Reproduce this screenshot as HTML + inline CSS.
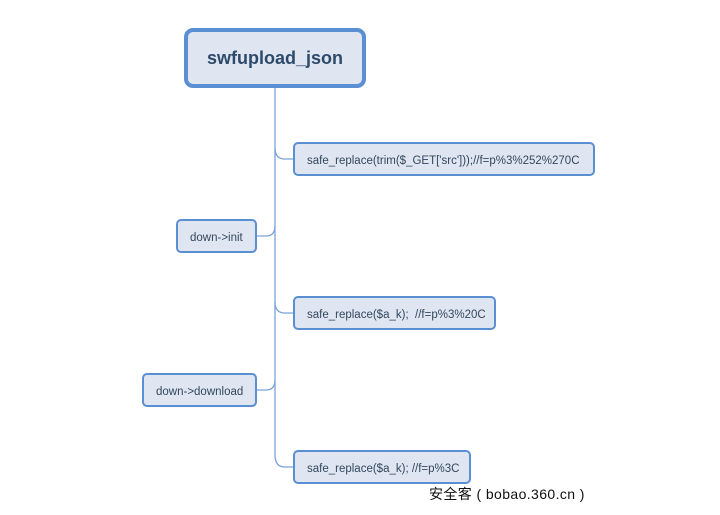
<!DOCTYPE html>
<html><head><meta charset="utf-8"><style>
body{margin:0;width:720px;height:515px;background:#fff;position:relative;overflow:hidden;font-family:"Liberation Sans",sans-serif;}
.b{position:absolute;box-sizing:border-box;background:#dfe6f1;border:2px solid #5b8fd3;border-radius:5px;color:#33475e;font-size:11.5px;display:flex;align-items:center;padding-left:12px;padding-top:3px;}
</style></head><body>
<svg width="720" height="515" style="position:absolute;left:0;top:0">
<g fill="none" stroke="#7aa3d8" stroke-width="1.3">
<path d="M275 87 V455 Q275 467 285 467 H293"/>
<path d="M275 148 Q275 159 285 159 H293"/>
<path d="M275 302 Q275 313 285 313 H293"/>
<path d="M256 236 H266 Q275 236 275 226"/>
<path d="M256 390 H266 Q275 390 275 380"/>
</g></svg>
<div class="b" style="left:184px;top:28px;width:182px;height:60px;border:4px solid #5b8fd3;border-radius:9px;justify-content:center;padding:0;font-size:18px;font-weight:bold;color:#2e4a6b">swfupload_json</div>
<div class="b" style="left:293px;top:142px;width:302px;height:34px">safe_replace(trim($_GET['src']));//f=p%3%252%270C</div>
<div class="b" style="left:176px;top:219px;width:81px;height:34px">down-&gt;init</div>
<div class="b" style="left:293px;top:296px;width:203px;height:34px">safe_replace($a_k);&nbsp; //f=p%3%20C</div>
<div class="b" style="left:142px;top:373px;width:115px;height:34px">down-&gt;download</div>
<div class="b" style="left:293px;top:450px;width:178px;height:34px">safe_replace($a_k); //f=p%3C</div>
<div style="position:absolute;left:429px;top:484px;font-size:14px;letter-spacing:0.4px;color:#111;font-family:'Liberation Sans','Noto Sans CJK SC',sans-serif">安全客 ( bobao.360.cn )</div>
</body></html>
